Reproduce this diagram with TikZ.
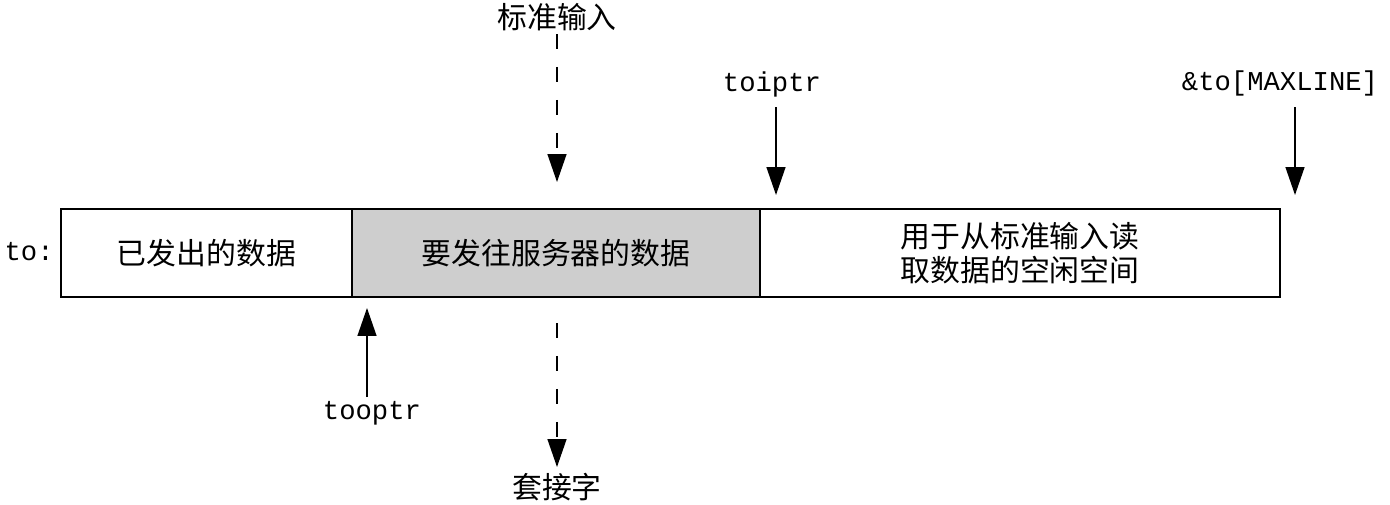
\documentclass[tikz,border=0pt]{standalone}
\usepackage{fontspec}
\setmonofont{Liberation Mono}
\newfontfamily\cjk{Noto Sans CJK SC}
\usetikzlibrary{arrows.meta}
\begin{document}
\begin{tikzpicture}[x=0.02cm, y=-0.02cm,
  cell/.style={draw, line width=1.1pt, minimum height=1.76cm, inner sep=0pt,
    align=center, font=\cjk\fontsize{17}{19}\selectfont},
  cjklabel/.style={inner sep=0pt, font=\cjk\fontsize{17}{20}\selectfont},
  ptrlabel/.style={inner sep=0pt, font=\ttfamily\fontsize{15.5}{18}\selectfont},
  ptr/.style={line width=0.8pt, -{Triangle[length=0.56cm, width=0.38cm]}},
  flow/.style={ptr, dash pattern=on 0.3cm off 0.36cm}]
\useasboundingbox (0,0) rectangle (1390,504);

% the buffer and its three regions
\node[cell, minimum width=5.82cm] (sent) at (206.5,253) {已发出的数据};
\node[cell, minimum width=8.16cm, fill={rgb,255:red,206;green,206;blue,206}] (pending) at (556,253) {要发往服务器的数据};
\node[cell, minimum width=10.4cm] (free) at (1020,253) {用于从标准输入读\\取数据的空闲空间};
\node[ptrlabel, anchor=east] (to) at (54,252) {to:};

% standard input flowing in
\node[cjklabel] (stdin) at (557,17) {标准输入};
\coordinate (inS) at (557,34);
\coordinate (inE) at (557,182);
\draw[flow] (inS) -- (inE);

% socket flowing out
\node[cjklabel] (sock) at (557,487) {套接字};
\coordinate (outS) at (557,323);
\coordinate (outE) at (557,467);
\draw[flow] (outS) -- (outE);

% pointers into the buffer
\node[ptrlabel] (toiptr) at (772,84) {toiptr};
\coordinate (iS) at (776,107);
\coordinate (iE) at (776,195);
\draw[ptr] (iS) -- (iE);

\node[ptrlabel] (maxl) at (1280,83) {\&to[MAXLINE]};
\coordinate (mS) at (1295,107);
\coordinate (mE) at (1295,195);
\draw[ptr] (mS) -- (mE);

\node[ptrlabel] (tooptr) at (372,413) {tooptr};
\coordinate (oS) at (367,397);
\coordinate (oE) at (367,308);
\draw[ptr] (oS) -- (oE);
\end{tikzpicture}
\end{document}
